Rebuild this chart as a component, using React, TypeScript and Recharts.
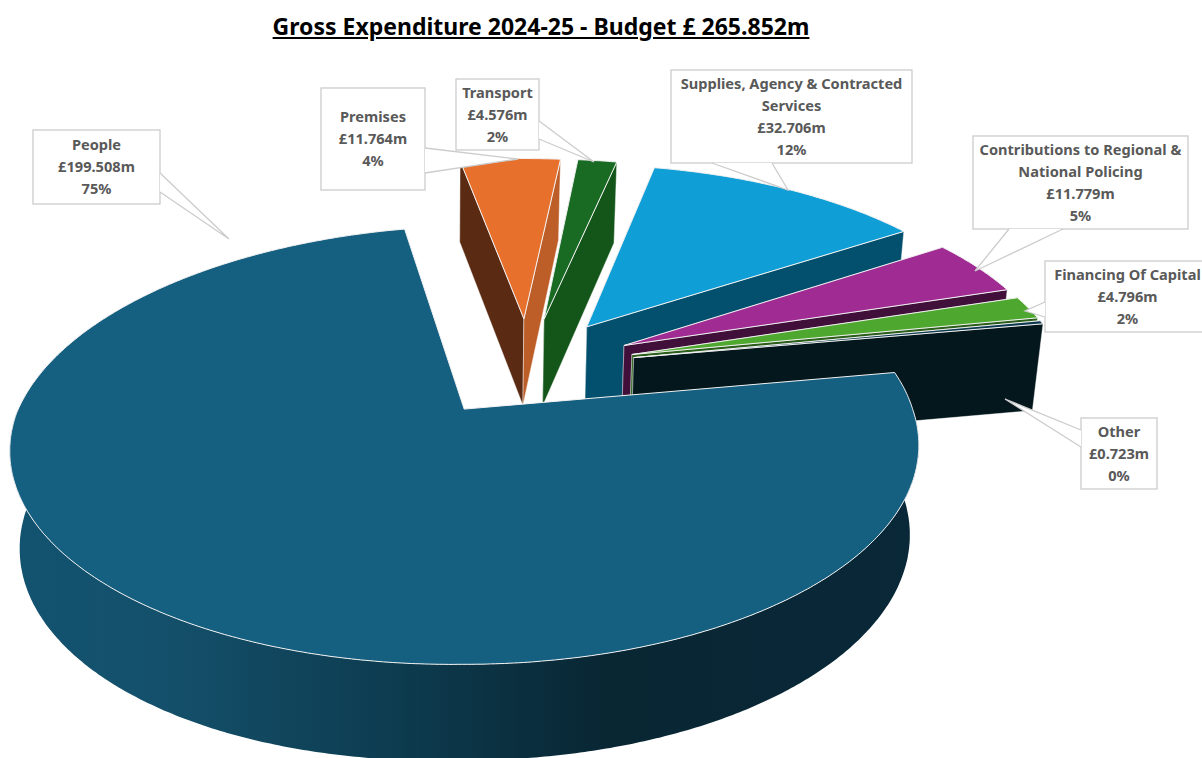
import { Cell, Pie, PieChart } from 'recharts'

const categories = ['Premises', 'Transport', 'Supplies, Agency & Contracted Services', 'Contributions to Regional & National Policing', 'Financing Of Capital', 'Other', 'People']
const values = [11.764, 4.576, 32.706, 11.779, 4.796, 0.723, 199.508]
const shownPercents = ['4%', '2%', '12%', '5%', '2%', '0%', '75%']
const nameLines = [
  ['Premises'],
  ['Transport'],
  ['Supplies, Agency & Contracted', 'Services'],
  ['Contributions to Regional &', 'National Policing'],
  ['Financing Of Capital'],
  ['Other'],
  ['People'],
]

const topColors = ['#e8702d', '#196b24', '#0f9ed5', '#a02b93', '#4ea72e', '#0d3a4e', '#155f80']
const startWallColors = ['#5a2b12', '#14561a', '#034f6e', '#40103b', '#1f4a12', '#03171d', '#092838']
const endWallColors = ['#bd5d27', '#14561a', '#034f6e', '#40103b', '#2a5e1a', '#03171d', '#092838']

const data = categories.map((name, i) => ({ name, value: values[i] }))

// callout boxes: x, y, w, h and the wedge as base-a, tip, base-b
const callouts = [
  { x: 321, y: 88, w: 104, h: 102, wedge: [[425, 148], [518, 159], [425, 173]] },
  { x: 456, y: 79, w: 83, h: 71, wedge: [[539, 121], [594, 162], [539, 139]] },
  { x: 671, y: 70, w: 241, h: 93, wedge: [[772, 163], [788, 190], [712, 163]] },
  { x: 973, y: 136, w: 215, h: 93, wedge: [[1063, 229], [975, 271], [1009, 229]] },
  { x: 1045, y: 261, w: 165, h: 71, wedge: [[1045, 317], [1025, 311], [1045, 302]] },
  { x: 1081, y: 418, w: 76, h: 71, wedge: [[1081, 447], [1005, 399], [1081, 430]] },
  { x: 33, y: 130, w: 127, h: 74, wedge: [[160, 173], [229, 239], [160, 192]] },
]

// the tilted pie: plane coordinates (radius 1) to the page, for top face and base
const TOP = { x0: 462.5, y0: 408, a: 448, b: 213, k: 0.164, s: 9, t: 6 }
const BASE = { x0: 463, y0: 497.5, a: 439, b: 219.4, k: 0.16, s: 8, t: 14 }
const CENTRE = [0.147, 0.2]
const EXPLODE = 0.25

type Plane = typeof TOP
const rad = (deg: number) => (deg * Math.PI) / 180

function project(p: Plane, u: number, v: number) {
  const w = 1 + p.k * v
  return [p.x0 + (p.a * u + p.s * Math.max(v, 0)) / w, p.y0 - (p.b * v + p.t * Math.min(u, 0)) / w]
}

const toPath = (pts: number[][]) => 'M' + pts.map((q) => `${q[0].toFixed(1)},${q[1].toFixed(1)}`).join('L') + 'Z'

function Slice3D(props: any) {
  const { startAngle, endAngle, name } = props
  const i = categories.indexOf(name)
  const mid = rad((startAngle + endAngle) / 2)
  const ax = CENTRE[0] + EXPLODE * Math.cos(mid)
  const ay = CENTRE[1] + EXPLODE * Math.sin(mid)

  const steps = Math.max(2, Math.ceil(Math.abs(startAngle - endAngle) * 2))
  const angles = Array.from({ length: steps + 1 }, (_, n) => rad(startAngle + ((endAngle - startAngle) * n) / steps))
  const rim = (p: Plane) => angles.map((t) => project(p, ax + Math.cos(t), ay + Math.sin(t)))
  const topRim = rim(TOP)
  const baseRim = rim(BASE)
  const topApex = project(TOP, ax, ay)
  const baseApex = project(BASE, ax, ay)

  // only the part of the curved wall that faces the viewer, one quad per step in a single path
  const outerWall = angles
    .slice(0, -1)
    .map((t, n) => (Math.sin(t) <= 0.02 ? toPath([topRim[n], topRim[n + 1], baseRim[n + 1], baseRim[n]]) : ''))
    .join('')
  const startWall = toPath([topApex, topRim[0], baseRim[0], baseApex])
  const endWall = toPath([topApex, topRim[steps], baseRim[steps], baseApex])
  const topFace = toPath([topApex, ...topRim])
  const isPeople = name === 'People'

  return (
    <g>
      {isPeople && (
        <defs>
          <linearGradient id="peopleWall" gradientUnits="userSpaceOnUse" x1="10" y1="0" x2="917" y2="0">
            <stop offset="0" stopColor="#125370" />
            <stop offset="0.17" stopColor="#14506b" />
            <stop offset="0.42" stopColor="#0d3c50" />
            <stop offset="0.66" stopColor="#092633" />
            <stop offset="1" stopColor="#092838" />
          </linearGradient>
        </defs>
      )}
      {isPeople && <path d={outerWall} fill="url(#peopleWall)" />}
      {!isPeople && <path d={startWall} fill={startWallColors[i]} stroke="#ffffff" strokeOpacity={0.55} strokeWidth={0.8} />}
      {!isPeople && <path d={endWall} fill={endWallColors[i]} stroke="#ffffff" strokeOpacity={0.55} strokeWidth={0.8} />}
      <path d={topFace} fill={topColors[i]} stroke="#f2f2f2" strokeWidth={1} strokeLinejoin="round" />
    </g>
  )
}

function Callout(props: any) {
  const i = props.index
  const box = callouts[i]
  const lines = [...nameLines[i], `£${values[i].toFixed(3)}m`, shownPercents[i]]
  const cx = box.x + box.w / 2
  const first = box.y + box.h / 2 - 1 - ((lines.length - 1) * 22) / 2
  return (
    <g>
      <rect x={box.x} y={box.y} width={box.w} height={box.h} fill="#ffffff" stroke="#cccccc" strokeWidth={1.3} />
      <polygon points={box.wedge.map((q) => q.join(',')).join(' ')} fill="#ffffff" stroke="none" />
      <polyline points={box.wedge.map((q) => q.join(',')).join(' ')} fill="none" stroke="#cccccc" strokeWidth={1.3} />
      {lines.map((line, n) => (
        <text
          key={line}
          x={cx}
          y={first + n * 22}
          textAnchor="middle"
          dominantBaseline="central"
          fontFamily="'Noto Sans', sans-serif"
          fontWeight={700}
          fontSize={14.6}
          fill="#595959"
        >
          {line}
        </text>
      ))}
    </g>
  )
}

export default function App() {
  return (
    <div style={{ position: 'absolute', left: 0, top: 0, width: 1202, height: 758, overflow: 'hidden', background: '#fff' }}>
      <div
        style={{
          position: 'absolute',
          top: 10,
          left: 0,
          width: 1082,
          textAlign: 'center',
          fontFamily: "'Noto Sans', sans-serif",
          fontWeight: 700,
          fontSize: 23,
          color: '#000',
          textDecoration: 'underline',
          whiteSpace: 'nowrap',
        }}
      >
        Gross Expenditure 2024-25 - Budget £ 265.852m
      </div>
      <PieChart width={1202} height={758} margin={{ top: 0, right: 0, bottom: 0, left: 0 }}>
        <Pie
          data={data}
          dataKey="value"
          nameKey="name"
          cx={463}
          cy={408}
          outerRadius={200}
          startAngle={100}
          endAngle={-260}
          isAnimationActive={false}
          shape={Slice3D}
          label={Callout}
          labelLine={false}
          rootTabIndex={-1}
        >
          {categories.map((name, i) => (
            <Cell key={name} fill={topColors[i]} />
          ))}
        </Pie>
      </PieChart>
    </div>
  )
}
